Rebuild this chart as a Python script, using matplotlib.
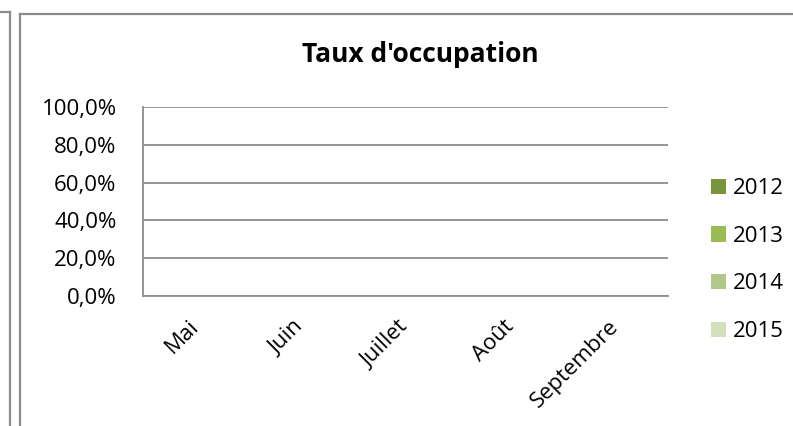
import numpy as np
import matplotlib.pyplot as plt
from matplotlib.lines import Line2D
from matplotlib.ticker import FuncFormatter

# chart data (the source chart is empty: no value plotted for any month)
months = ['Mai', 'Juin', 'Juillet', 'Août', 'Septembre']
years = ['2012', '2013', '2014', '2015']
taux_2012 = [np.nan, np.nan, np.nan, np.nan, np.nan]
taux_2013 = [np.nan, np.nan, np.nan, np.nan, np.nan]
taux_2014 = [np.nan, np.nan, np.nan, np.nan, np.nan]
taux_2015 = [np.nan, np.nan, np.nan, np.nan, np.nan]
colors = ['#77933C', '#9BBB59', '#B0C98A', '#D3E0BC']

plt.rcParams['font.family'] = ['Open Sans', 'DejaVu Sans']

W, H = 793, 426
fig = plt.figure(figsize=(W / 100, H / 100), dpi=100)

# frames (edge of the previous chart + this chart's border)
gray = '#8C8C8C'
fig.add_artist(Line2D([10 / W, 10 / W], [0, 1 - 12 / H], color=gray, lw=1.6))
fig.add_artist(Line2D([0, 10 / W], [1 - 12 / H, 1 - 12 / H], color=gray, lw=1.6))
fig.add_artist(Line2D([20 / W, 20 / W], [0, 1 - 14 / H], color=gray, lw=1.6))
fig.add_artist(Line2D([20 / W, 1], [1 - 14 / H, 1 - 14 / H], color=gray, lw=1.6))

ax = fig.add_axes([143 / W, 1 - 296 / H, 525 / W, 189 / H])

x = np.arange(len(months))
w = 0.18
series = [taux_2012, taux_2013, taux_2014, taux_2015]
for i, (yr, vals) in enumerate(zip(years, series)):
    ax.bar(x + (i - 1.5) * w, vals, w, color=colors[i], label=yr, linewidth=0)

ax.set_xlim(-0.5, len(months) - 0.5)
ax.set_ylim(0, 1)
ax.set_yticks(np.arange(0, 1.01, 0.2))
ax.yaxis.set_major_formatter(FuncFormatter(lambda v, p: f'{v * 100:.1f}%'.replace('.', ',')))
ax.grid(axis='y', color=gray, lw=1.3)
ax.set_axisbelow(True)
for s in ['top', 'right']:
    ax.spines[s].set_visible(False)
ax.spines['left'].set_color(gray)
ax.spines['bottom'].set_color(gray)
ax.spines['left'].set_linewidth(1.3)
ax.spines['bottom'].set_linewidth(1.3)
ax.tick_params(axis='both', length=0, labelsize=16)
ax.tick_params(axis='y', pad=19)
ax.set_xticks(x)
ax.set_xticklabels(months, rotation=45, ha='right', va='center', rotation_mode='anchor')
ax.tick_params(axis='x', pad=20)

fig.text(420 / W, 1 - 55 / H, "Taux d'occupation", ha='center', va='center',
         fontsize=19, fontweight='bold')

leg = ax.legend(loc='center left', bbox_to_anchor=(711 / W, 1 - 260 / H),
                bbox_transform=fig.transFigure, frameon=False, fontsize=16,
                borderpad=0, borderaxespad=0,
                handlelength=0.68, handleheight=0.68, handletextpad=0.3,
                labelspacing=1.2)

fig.savefig('out.png', dpi=100)
